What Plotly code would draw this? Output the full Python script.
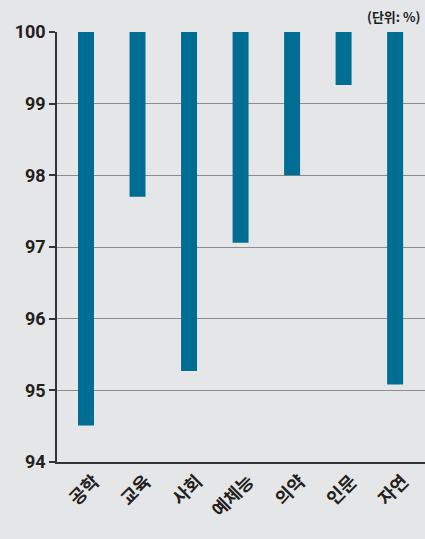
import plotly.graph_objects as go

categories = ["공학", "교육", "사회", "예체능", "의약", "인문", "자연"]
values = [94.51, 97.70, 95.27, 97.06, 98.00, 99.26, 95.08]
base_value = 100
y_ticks = [94, 95, 96, 97, 98, 99, 100]

BAR = "#006d92"
BG = "#e5e6e8"
TXT = "#231f20"

fig = go.Figure(
    go.Bar(
        x=categories,
        y=[v - base_value for v in values],
        base=base_value,
        marker=dict(color=BAR, line=dict(width=0)),
        width=0.31,
        hoverinfo="skip",
    )
)

fig.update_layout(
    width=425,
    height=539,
    paper_bgcolor=BG,
    plot_bgcolor=BG,
    margin=dict(l=57, r=0, t=32, b=77),
    showlegend=False,
    font=dict(family="Noto Sans CJK KR", color=TXT),
    xaxis=dict(
        range=[-0.563, 6.58],
        showgrid=False,
        showline=True,
        linecolor="#333333",
        linewidth=1.5,
        ticks="",
        tickangle=-45,
        ticklabelshift=8,
        tickfont=dict(family="Noto Sans CJK KR", size=18, color=TXT, weight="bold"),
    ),
    yaxis=dict(
        range=[94, 100],
        tickvals=y_ticks,
        ticktext=[str(t) for t in y_ticks],
        showgrid=True,
        gridcolor="#8c8c8c",
        gridwidth=1,
        showline=True,
        linecolor="#333333",
        linewidth=1.5,
        ticks="outside",
        ticklen=6,
        tickcolor="#333333",
        tickwidth=1.5,
        zeroline=False,
        tickfont=dict(family="Roboto", size=18, color=TXT, weight="bold"),
    ),
    annotations=[
        dict(
            text="(단위: %)",
            xref="paper",
            yref="paper",
            x=0.992,
            y=1.0,
            xanchor="right",
            yanchor="bottom",
            yshift=4,
            showarrow=False,
            font=dict(family="Noto Sans CJK KR", size=13, color=TXT, weight="bold"),
        )
    ],
)

fig.write_html(
    "out.html",
    config={"displayModeBar": False},
    post_script="document.body.style.margin='0';document.body.style.padding='0';document.body.style.overflow='hidden';",
)
